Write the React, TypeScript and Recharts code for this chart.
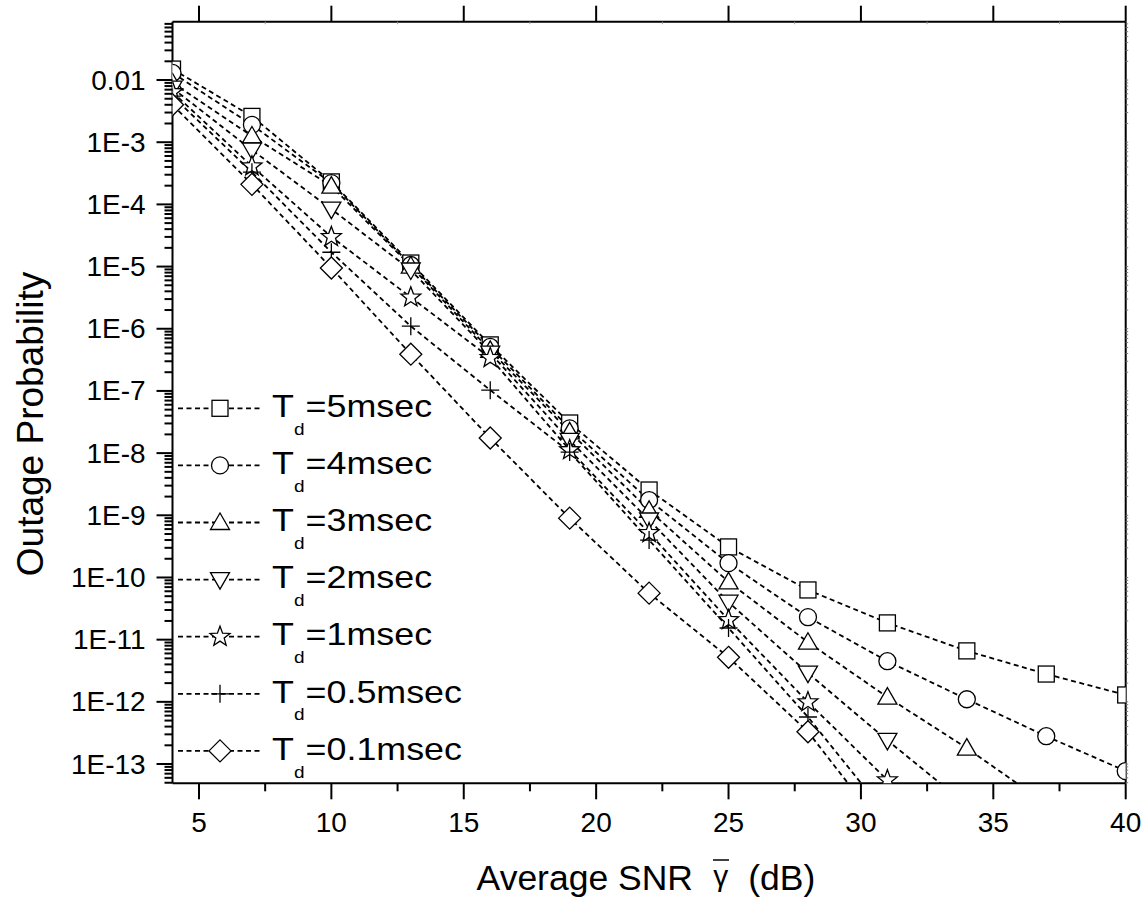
import React from "react";
import { LineChart, Line, XAxis, YAxis, Customized } from "recharts";

// Average SNR (dB) sample points
const snr = [4, 7, 10, 13, 16, 19, 22, 25, 28, 31, 34, 37, 40];

// outage probability per Doppler-delay curve
const td5 = [0.015, 2.6e-3, 2.3e-4, 1.14e-5, 5.5e-7, 3.05e-8, 2.55e-9, 3.1e-10, 6.3e-11, 1.86e-11, 6.6e-12, 2.8e-12, 1.29e-12];
const td4 = [0.013, 1.9e-3, 2.2e-4, 1.06e-5, 5.1e-7, 2.5e-8, 1.76e-9, 1.7e-10, 2.3e-11, 4.5e-12, 1.1e-12, 2.8e-13, 7.7e-14];
const td3 = [9e-3, 1.26e-3, 1.97e-4, 1.02e-5, 4.5e-7, 2.2e-8, 1.2e-9, 8.5e-11, 9.1e-12, 1.19e-12, 1.8e-13, 2.3e-14];
const td2 = [7.4e-3, 7.5e-4, 8.4e-5, 8.8e-6, 4.07e-7, 1.6e-8, 8.4e-10, 4.0e-11, 2.9e-12, 2.4e-13, 2.2e-14];
const td1 = [6.4e-3, 4.1e-4, 3.0e-5, 3.2e-6, 3.4e-7, 1.12e-8, 5.2e-10, 2.07e-11, 9.9e-13, 5.5e-14];
const td05 = [5.5e-3, 3.3e-4, 1.7e-5, 1.1e-6, 1.03e-7, 1.04e-8, 4.0e-10, 1.54e-11, 5.7e-13, 1.46e-14];
const td01 = [4.0e-3, 2.1e-4, 9.5e-6, 3.9e-7, 1.75e-8, 9.0e-10, 5.6e-11, 5.2e-12, 3.3e-13, 7.5e-15];

const seriesKeys = ["td5", "td4", "td3", "td2", "td1", "td05", "td01"];
const seriesValues = [td5, td4, td3, td2, td1, td05, td01];
const seriesLabels = ["5msec", "4msec", "3msec", "2msec", "1msec", "0.5msec", "0.1msec"];
const seriesShapes = ["square", "circle", "up", "down", "star", "plus", "diamond"];

const xMajor = [5, 10, 15, 20, 25, 30, 35, 40];
const xMinor = [7.5, 12.5, 17.5, 22.5, 27.5, 32.5, 37.5];

// layout
const W = 1148;
const H = 906;
const PL = 172.5;
const PR = 1125.7;
const PT = 21.7;
const PB = 783.3;
const FONT = "Arial, 'Liberation Sans', sans-serif";

const Y_MIN = Math.pow(10, -13.31);
const Y_MAX = Math.pow(10, -1.062);

const yTicks: number[] = [];
for (let n = -14; n <= -1; n++) {
  for (let k = 1; k <= 9; k++) {
    const v = k * Math.pow(10, n);
    if (v >= Y_MIN && v <= Y_MAX) yTicks.push(v);
  }
}

const data = snr.map((x, i) => {
  const row: any = { snr: x };
  seriesKeys.forEach((k, j) => {
    if (i < seriesValues[j].length) row[k] = seriesValues[j][i];
  });
  return row;
});

const isDecade = (v: number) => {
  const e = Math.log10(v);
  return Math.abs(e - Math.round(e)) < 1e-6;
};

const yLabel = (v: number) => {
  const e = Math.round(Math.log10(v));
  return e === -2 ? "0.01" : `1E${e}`;
};

function Marker({ shape, cx, cy }: { shape: string; cx: number; cy: number }) {
  const s = { fill: "#fff", stroke: "#000", strokeWidth: 1.3 };
  switch (shape) {
    case "square":
      return <rect x={cx - 8} y={cy - 8} width={16} height={16} {...s} />;
    case "circle":
      return <circle cx={cx} cy={cy} r={8.5} {...s} />;
    case "up":
      return <polygon points={`${cx},${cy - 9.5} ${cx + 9.5},${cy + 7} ${cx - 9.5},${cy + 7}`} {...s} />;
    case "down":
      return <polygon points={`${cx},${cy + 9.5} ${cx + 9.5},${cy - 7} ${cx - 9.5},${cy - 7}`} {...s} />;
    case "star": {
      const pts: string[] = [];
      for (let i = 0; i < 10; i++) {
        const r = i % 2 === 0 ? 10.5 : 4.4;
        const a = -Math.PI / 2 + (i * Math.PI) / 5;
        pts.push(`${cx + r * Math.cos(a)},${cy + r * Math.sin(a)}`);
      }
      return <polygon points={pts.join(" ")} {...s} />;
    }
    case "plus":
      return <path d={`M${cx - 9},${cy}H${cx + 9}M${cx},${cy - 9}V${cy + 9}`} fill="none" stroke="#000" strokeWidth={1.3} />;
    default:
      return <polygon points={`${cx},${cy - 11} ${cx + 11},${cy} ${cx},${cy + 11} ${cx - 11},${cy}`} {...s} />;
  }
}

function LeftTick(props: any) {
  const { y, payload } = props;
  const major = isDecade(payload.value);
  return (
    <g>
      <line x1={PL} x2={PL - (major ? 16 : 8)} y1={y} y2={y} stroke="#000" strokeWidth={2} />
      {major && (
        <text x={145.7} y={y + 9.5} textAnchor="end" fontSize={28} fontFamily={FONT} fill="#000">
          {yLabel(payload.value)}
        </text>
      )}
    </g>
  );
}

function RightTick(props: any) {
  const { y } = props;
  return <line x1={PR} x2={PR + 2.5} y1={y} y2={y} stroke="#777" strokeWidth={1} />;
}

function BottomTick(props: any) {
  const { x, payload } = props;
  const major = xMajor.includes(payload.value);
  return (
    <g>
      <line x1={x} x2={x} y1={PB} y2={PB + (major ? 16 : 8)} stroke="#000" strokeWidth={2} />
      {major && (
        <text x={x} y={831.7} textAnchor="middle" fontSize={28} fontFamily={FONT} fill="#000">
          {payload.value}
        </text>
      )}
    </g>
  );
}

function TopTick(props: any) {
  const { x, payload } = props;
  const major = xMajor.includes(payload.value);
  return major ? (
    <line x1={x} x2={x} y1={PT} y2={PT - 16} stroke="#000" strokeWidth={2} />
  ) : (
    <line x1={x} x2={x} y1={PT} y2={PT + 2.5} stroke="#999" strokeWidth={1} />
  );
}

function Decorations() {
  const y0 = 408.3;
  const step = 57.1;
  return (
    <g>
      {seriesLabels.map((lab, i) => {
        const y = y0 + i * step;
        return (
          <g key={lab}>
            <line x1={178} x2={262} y1={y} y2={y} stroke="#000" strokeWidth={1.8} strokeDasharray="5 3.5" />
            <Marker shape={seriesShapes[i]} cx={220} cy={y} />
            <g transform={`translate(272, ${y + 8.7}) scale(1.12, 1)`}>
              <text x={0} y={0} fontSize={32} fontFamily={FONT} fill="#000">
                T
                <tspan fontSize={17} dy={18}>d</tspan>
                <tspan fontSize={32} dy={-18} dx={1}>={lab}</tspan>
              </text>
            </g>
          </g>
        );
      })}
      <text x={693} y={890} textAnchor="end" fontSize={35.5} fontFamily={FONT} fill="#000">
        Average SNR
      </text>
      <text x={720.8} y={886} textAnchor="middle" fontSize={30} fontFamily={FONT} fill="#000">
        γ
      </text>
      <line x1={713} x2={729} y1={860} y2={860} stroke="#000" strokeWidth={1.5} />
      <text x={748.3} y={890} textAnchor="start" fontSize={35.5} fontFamily={FONT} fill="#000">
        (dB)
      </text>
      <text
        x={43}
        y={424}
        textAnchor="middle"
        fontSize={37}
        fontFamily={FONT}
        fill="#000"
        transform="rotate(-90, 43, 424)"
      >
        Outage Probability
      </text>
    </g>
  );
}

export default function App() {
  return (
    <div style={{ width: W, height: H, background: "#fff" }}>
      <style>{`body{margin:0;overflow:hidden;background:#fff}`}</style>
      <LineChart
        width={W}
        height={H}
        data={data}
        margin={{ top: PT - 10, right: W - PR - 10, left: PL - 100, bottom: H - PB - 60 }}
      >
        <XAxis
          xAxisId="b"
          dataKey="snr"
          type="number"
          domain={[4, 40]}
          allowDataOverflow
          ticks={[...xMajor, ...xMinor]}
          interval={0}
          height={60}
          tickLine={false}
          axisLine={{ stroke: "#000", strokeWidth: 2 }}
          tick={(p: any) => <BottomTick {...p} />}
        />
        <XAxis
          xAxisId="t"
          orientation="top"
          dataKey="snr"
          type="number"
          domain={[4, 40]}
          allowDataOverflow
          ticks={[...xMajor, ...xMinor]}
          interval={0}
          height={10}
          tickLine={false}
          axisLine={{ stroke: "#000", strokeWidth: 2 }}
          tick={(p: any) => <TopTick {...p} />}
        />
        <YAxis
          yAxisId="l"
          type="number"
          scale="log"
          domain={[Y_MIN, Y_MAX]}
          allowDataOverflow
          ticks={yTicks}
          interval={0}
          width={100}
          tickLine={false}
          axisLine={{ stroke: "#000", strokeWidth: 2 }}
          tick={(p: any) => <LeftTick {...p} />}
        />
        <YAxis
          yAxisId="r"
          orientation="right"
          type="number"
          scale="log"
          domain={[Y_MIN, Y_MAX]}
          allowDataOverflow
          ticks={yTicks}
          interval={0}
          width={10}
          tickLine={false}
          axisLine={{ stroke: "#000", strokeWidth: 2 }}
          tick={(p: any) => <RightTick {...p} />}
        />
        {seriesKeys.map((k, i) => (
          <Line
            key={k}
            xAxisId="b"
            yAxisId="l"
            dataKey={k}
            stroke="#000"
            strokeWidth={1.8}
            strokeDasharray="5 3.5"
            connectNulls={false}
            activeDot={false}
            isAnimationActive={false}
            dot={(p: any) =>
              p.cx == null || p.cy == null || p.value == null ? (
                <g key={`${k}-${p.index}`} />
              ) : (
                <g key={`${k}-${p.index}`}>
                  <Marker shape={seriesShapes[i]} cx={p.cx} cy={p.cy} />
                </g>
              )
            }
          />
        ))}
        <Customized component={() => <Decorations />} />
      </LineChart>
    </div>
  );
}
